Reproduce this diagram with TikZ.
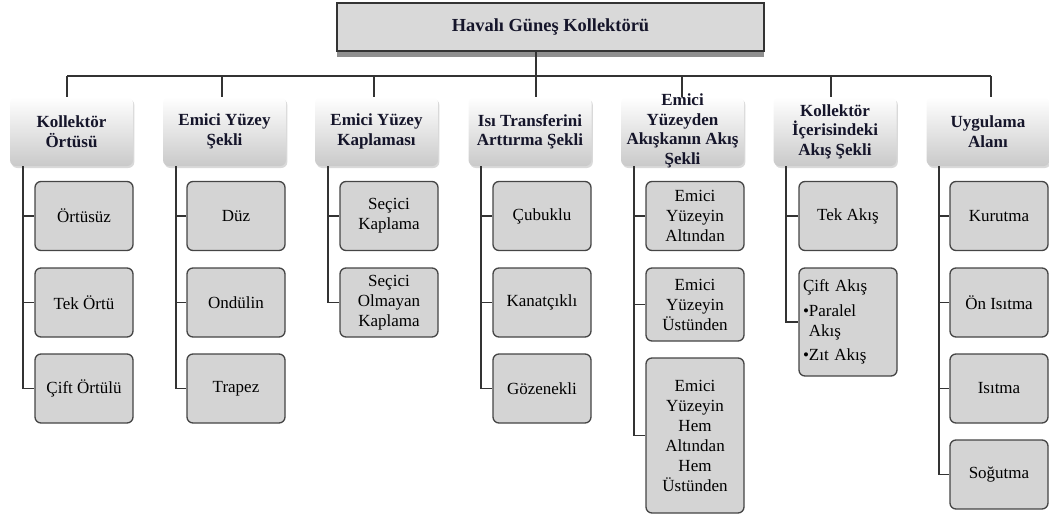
\documentclass[tikz,border=0pt]{standalone}
\usepackage{fontspec}
\setmainfont{Liberation Serif}
\usetikzlibrary{shadows}
\definecolor{linec}{HTML}{333333}
\definecolor{boxfill}{HTML}{D4D4D4}
\definecolor{boxdraw}{HTML}{454545}
\definecolor{topfill}{HTML}{D9D9D9}
\definecolor{topshadow}{HTML}{8F8F8F}
\definecolor{headtext}{HTML}{15152A}
\begin{document}
\begin{tikzpicture}[x=0.75pt,y=-0.75pt,
  txt/.style={font=\fontsize{12.75}{15}\selectfont, align=center, inner sep=0pt},
  headtxt/.style={txt, text=headtext, font=\bfseries\fontsize{12.75}{14.6}\selectfont},
  headbox/.style={headtxt, rounded corners=4.5pt, top color=white, bottom color=gray!42,
    minimum width=92.25pt, minimum height=51.75pt,
    drop shadow={shadow xshift=1pt, shadow yshift=-1.5pt, opacity=0.3}},
  leaf/.style={txt, draw=boxdraw, line width=1pt, fill=boxfill, rounded corners=4.5pt,
    minimum width=73.5pt, minimum height=51.75pt},
  topbox/.style={txt, text=headtext, font=\bfseries\fontsize{13.8}{16}\selectfont,
    draw=linec, line width=0.9pt, fill=topfill, minimum width=320.25pt, minimum height=36pt,
    drop shadow={shadow xshift=0pt, shadow yshift=-4.5pt, fill=topshadow, opacity=1}},
  conn/.style={draw=linec, line width=1.1pt}
]
\useasboundingbox (0,0) rectangle (1049,515);

% top
\node[topbox] (top) at (550.5,27) {Havalı Güneş Kollektörü};

% headers
\node[headbox] (h1) at (71.5,131.5) {Kollektör\\Örtüsü};
\node[headbox] (h2) at (224.5,131.5) {Emici Yüzey\\Şekli};
\node[headbox] (h3) at (376.5,131.5) {Emici Yüzey\\Kaplaması};
\node[headbox] (h4) at (530,131.5) {Isı Transferini\\Arttırma Şekli};
\node[headbox] (h5) at (682.5,131.5) {};
\node[headtxt] (h5t) at (682.5,131) {Emici\\Yüzeyden\\Akışkanın Akış\\Şekli};
\node[headbox] (h6) at (835,131.5) {Kollektör\\İçerisindeki\\Akış Şekli};
\node[headbox] (h7) at (988,131.5) {Uygulama\\Alanı};

% bus
\coordinate (b1) at (67,76);
\coordinate (b2) at (222,76);
\coordinate (b3) at (374,76);
\coordinate (b4) at (536,76);
\coordinate (b5) at (682,76);
\coordinate (b6) at (831,76);
\coordinate (b7) at (991,76);
\draw[conn] (b1) -- (b7);
\draw[conn] (top.south -| b4) -- (b4);
\foreach \i in {1,...,7}{\draw[conn] (b\i) -- (b\i |- h\i.north);}

% leaves
\node[leaf] (c11) at (84,216) {Örtüsüz};
\node[leaf] (c12) at (84,302.5) {Tek Örtü};
\node[leaf] (c13) at (84,388.5) {Çift Örtülü};

\node[leaf] (c21) at (236,216) {Düz};
\node[leaf] (c22) at (236,302.5) {Ondülin};
\node[leaf] (c23) at (236,388.5) {Trapez};

\node[leaf] (c31) at (389,216) {Seçici\\Kaplama};
\node[leaf] (c32) at (389,302.5) {Seçici\\Olmayan\\Kaplama};

\node[leaf] (c41) at (542,216) {Çubuklu};
\node[leaf] (c42) at (542,302.5) {Kanatçıklı};
\node[leaf] (c43) at (542,388.5) {Gözenekli};

\node[leaf] (c51) at (695,216) {Emici\\Yüzeyin\\Altından};
\node[leaf, minimum height=54.75pt] (c52) at (695,304.5) {Emici\\Yüzeyin\\Üstünden};
\node[leaf, minimum height=116.25pt] (c53) at (695,435.5) {Emici\\Yüzeyin\\Hem\\Altından\\Hem\\Üstünden};

\node[leaf] (c61) at (848,216) {Tek Akış};
\node[leaf, align=left, text width=67.5pt, inner xsep=3pt, minimum height=81pt] (c62) at (848,322)
  {Çift Akış\\[4pt]•Paralel\\\phantom{•}Akış\\[3pt]•Zıt Akış};

\node[leaf] (c71) at (999,216) {Kurutma};
\node[leaf] (c72) at (999,302.5) {Ön Isıtma};
\node[leaf] (c73) at (999,388.5) {Isıtma};
\node[leaf] (c74) at (999,474.5) {Soğutma};

% spines
\coordinate (v1) at (23,0);
\coordinate (v2) at (176,0);
\coordinate (v3) at (328,0);
\coordinate (v4) at (481,0);
\coordinate (v5) at (634,0);
\coordinate (v6) at (786,0);
\coordinate (v7) at (939,0);

\draw[conn] (v1 |- h1.south) |- (c13.west);
\draw[conn] (v1 |- c11.west) -- (c11.west);
\draw[conn] (v1 |- c12.west) -- (c12.west);

\draw[conn] (v2 |- h2.south) |- (c23.west);
\draw[conn] (v2 |- c21.west) -- (c21.west);
\draw[conn] (v2 |- c22.west) -- (c22.west);

\draw[conn] (v3 |- h3.south) |- (c32.west);
\draw[conn] (v3 |- c31.west) -- (c31.west);

\draw[conn] (v4 |- h4.south) |- (c43.west);
\draw[conn] (v4 |- c41.west) -- (c41.west);
\draw[conn] (v4 |- c42.west) -- (c42.west);

\draw[conn] (v5 |- h5.south) |- (c53.west);
\draw[conn] (v5 |- c51.west) -- (c51.west);
\draw[conn] (v5 |- c52.west) -- (c52.west);

\draw[conn] (v6 |- h6.south) |- (c62.west);
\draw[conn] (v6 |- c61.west) -- (c61.west);

\draw[conn] (v7 |- h7.south) |- (c74.west);
\draw[conn] (v7 |- c71.west) -- (c71.west);
\draw[conn] (v7 |- c72.west) -- (c72.west);
\draw[conn] (v7 |- c73.west) -- (c73.west);
\end{tikzpicture}
\end{document}
